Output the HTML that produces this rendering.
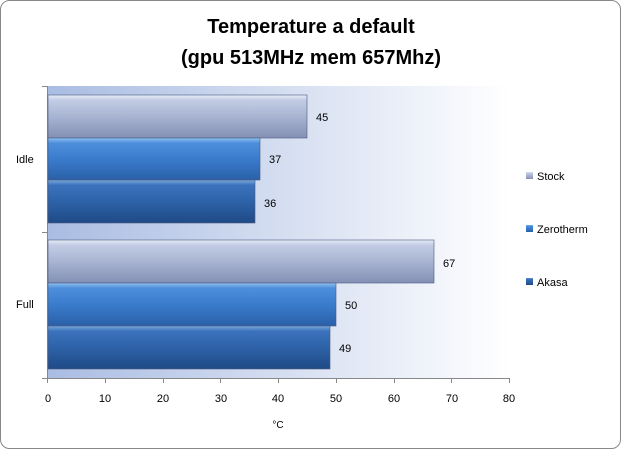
<!DOCTYPE html>
<html><head><style>
body{margin:0;background:#fff;}
svg text{font-family:"Liberation Sans",Arial,sans-serif;}
</style></head><body>
<svg width="622" height="450" xmlns="http://www.w3.org/2000/svg">
<defs>
<linearGradient id="bg" x1="0" x2="1" y1="0" y2="0">
<stop offset="0" stop-color="#a9bce2"/><stop offset="1" stop-color="#ffffff"/>
</linearGradient>
<linearGradient id="gs" x1="0" x2="0" y1="0" y2="1">
<stop offset="0" stop-color="#e6ecf7"/><stop offset="0.12" stop-color="#c2cce4"/><stop offset="0.5" stop-color="#a8b4d2"/><stop offset="1" stop-color="#8390b4"/>
</linearGradient>
<linearGradient id="gz" x1="0" x2="0" y1="0" y2="1">
<stop offset="0" stop-color="#8fc0f0"/><stop offset="0.12" stop-color="#4e8fdc"/><stop offset="0.5" stop-color="#3a7ccc"/><stop offset="1" stop-color="#2a60a8"/>
</linearGradient>
<linearGradient id="ga" x1="0" x2="0" y1="0" y2="1">
<stop offset="0" stop-color="#7aa8dc"/><stop offset="0.12" stop-color="#3b72bc"/><stop offset="0.5" stop-color="#2d62a8"/><stop offset="1" stop-color="#1f4a86"/>
</linearGradient>
</defs>
<rect x="0.5" y="0.5" width="620" height="448" rx="9" fill="#fff" stroke="#888"/>
<text x="311" y="33" text-anchor="middle" font-size="20" font-weight="bold">Temperature a default</text>
<text x="311" y="64" text-anchor="middle" font-size="20" font-weight="bold">(gpu 513MHz mem 657Mhz)</text>
<rect x="47" y="86" width="462" height="292" fill="url(#bg)"/>
<g stroke="#888" stroke-width="1">
<line x1="47.5" y1="86" x2="47.5" y2="378"/>
<line x1="47" y1="378.5" x2="509" y2="378.5"/>
<line x1="42" y1="86.5" x2="47" y2="86.5"/><line x1="42" y1="232.5" x2="47" y2="232.5"/><line x1="42" y1="378.5" x2="47" y2="378.5"/>
<line x1="47.5" y1="378" x2="47.5" y2="383"/><line x1="105.5" y1="378" x2="105.5" y2="383"/><line x1="163.5" y1="378" x2="163.5" y2="383"/><line x1="220.5" y1="378" x2="220.5" y2="383"/><line x1="278.5" y1="378" x2="278.5" y2="383"/><line x1="336.5" y1="378" x2="336.5" y2="383"/><line x1="394.5" y1="378" x2="394.5" y2="383"/><line x1="451.5" y1="378" x2="451.5" y2="383"/><line x1="509.5" y1="378" x2="509.5" y2="383"/>
</g>
<g stroke="#4a5a80" stroke-width="0.6">
<rect x="48" y="95" width="259" height="43" fill="url(#gs)"/>
<rect x="48" y="138" width="212" height="42" fill="url(#gz)"/>
<rect x="48" y="180" width="207" height="43" fill="url(#ga)"/>
<rect x="48" y="240" width="386" height="43" fill="url(#gs)"/>
<rect x="48" y="283" width="288" height="43" fill="url(#gz)"/>
<rect x="48" y="326" width="282" height="43" fill="url(#ga)"/>
</g>
<g font-size="11" fill="#000">
<text x="316" y="121">45</text><text x="269" y="163">37</text><text x="264" y="207">36</text>
<text x="443" y="267">67</text><text x="345" y="309">50</text><text x="339" y="352">49</text>
<text x="16" y="163">Idle</text><text x="16" y="308">Full</text>
<g text-anchor="middle">
<text x="48" y="402">0</text><text x="105" y="402">10</text><text x="163" y="402">20</text><text x="221" y="402">30</text><text x="278" y="402">40</text><text x="336" y="402">50</text><text x="394" y="402">60</text><text x="452" y="402">70</text><text x="509" y="402">80</text>
<text x="278" y="428" font-size="10">°C</text>
</g>
<rect x="526" y="172" width="7" height="7" fill="url(#gs)"/><text x="537" y="180">Stock</text>
<rect x="526" y="225" width="7" height="7" fill="url(#gz)"/><text x="537" y="233">Zerotherm</text>
<rect x="526" y="278" width="7" height="7" fill="url(#ga)"/><text x="537" y="286">Akasa</text>
</g>
</svg>
</body></html>
